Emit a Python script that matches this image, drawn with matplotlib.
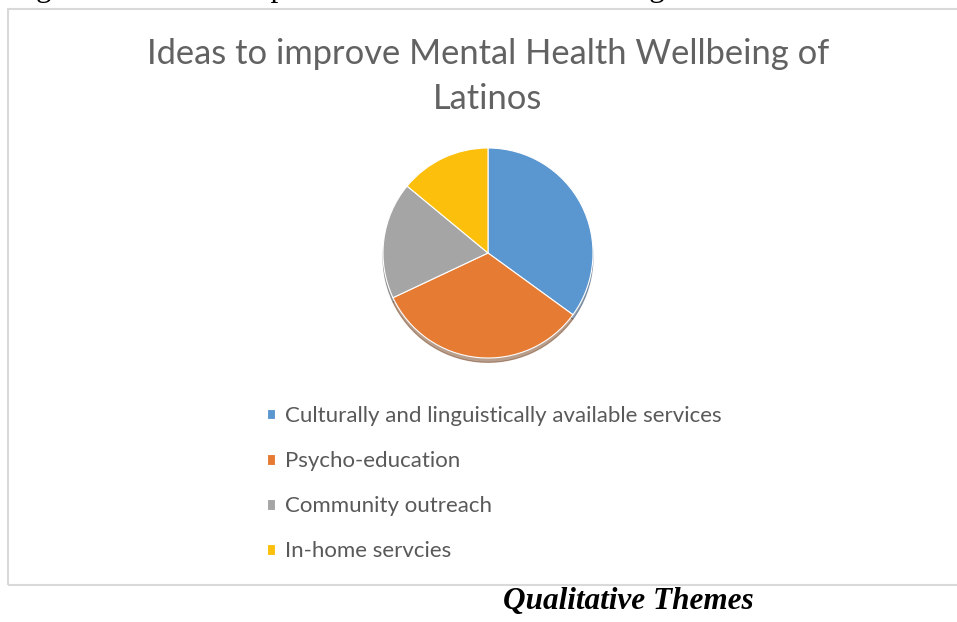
import matplotlib.pyplot as plt
from matplotlib.patches import Rectangle

# Share of responses per theme (%)
themes = [
    "Culturally and linguistically available services",
    "Psycho-education",
    "Community outreach",
    "In-home servcies",
]
shares = [35, 33, 18, 14]
colors = ["#5a96d0", "#e67b33", "#a5a5a5", "#fbbf0c"]

W, H = 957, 622
fig = plt.figure(figsize=(W / 100, H / 100), dpi=100)
fig.patch.set_facecolor("white")


def fx(px):
    return px / W


def fy(py):
    return 1 - py / H


# caption line above the chart, mostly cut off by the page edge
fig.text(fx(10), fy(-4), "Figure 3: Ideas to improve Mental Health Wellbeing of Latinos",
         family="Liberation Serif", fontsize=22.5, color="black", ha="left", va="baseline")

# chart frame
fig.patches.append(Rectangle((fx(8), fy(585)), fx(1000) - fx(8), fy(9) - fy(585),
                             transform=fig.transFigure, fill=False,
                             edgecolor="#d9d9d9", linewidth=1.5))

# chart title
title_kw = dict(family="Lato", fontsize=24.8, color="#626262",
                ha="center", va="center")
fig.text(fx(488), fy(54), "Ideas to improve Mental Health Wellbeing of", **title_kw)
fig.text(fx(488), fy(99), "Latinos", **title_kw)

# pie: center (488, 253) px, radius 105 px
r = 105
half = 1.25 * r
ax = fig.add_axes([fx(488 - half), fy(253 + half), 2 * half / W, 2 * half / H])
wedges, _ = ax.pie(shares, colors=colors, startangle=90, counterclock=False,
                   wedgeprops=dict(edgecolor="white", linewidth=0.8),
                   shadow={"ox": 0.0, "oy": -0.03, "shade": 0.5})

fig.legend(wedges, themes, loc="upper left", bbox_to_anchor=(fx(256), fy(395)),
           bbox_transform=fig.transFigure, frameon=False,
           prop=dict(family="Lato", size=16), labelcolor="#595959",
           handlelength=0.36, handleheight=0.36, handletextpad=0.45,
           labelspacing=1.13, borderpad=0)

fig.text(fx(628), fy(609), "Qualitative Themes", family="Liberation Serif",
         fontsize=22.5, fontweight="bold", fontstyle="italic",
         ha="center", va="baseline")

fig.savefig("out.png", dpi=100)
